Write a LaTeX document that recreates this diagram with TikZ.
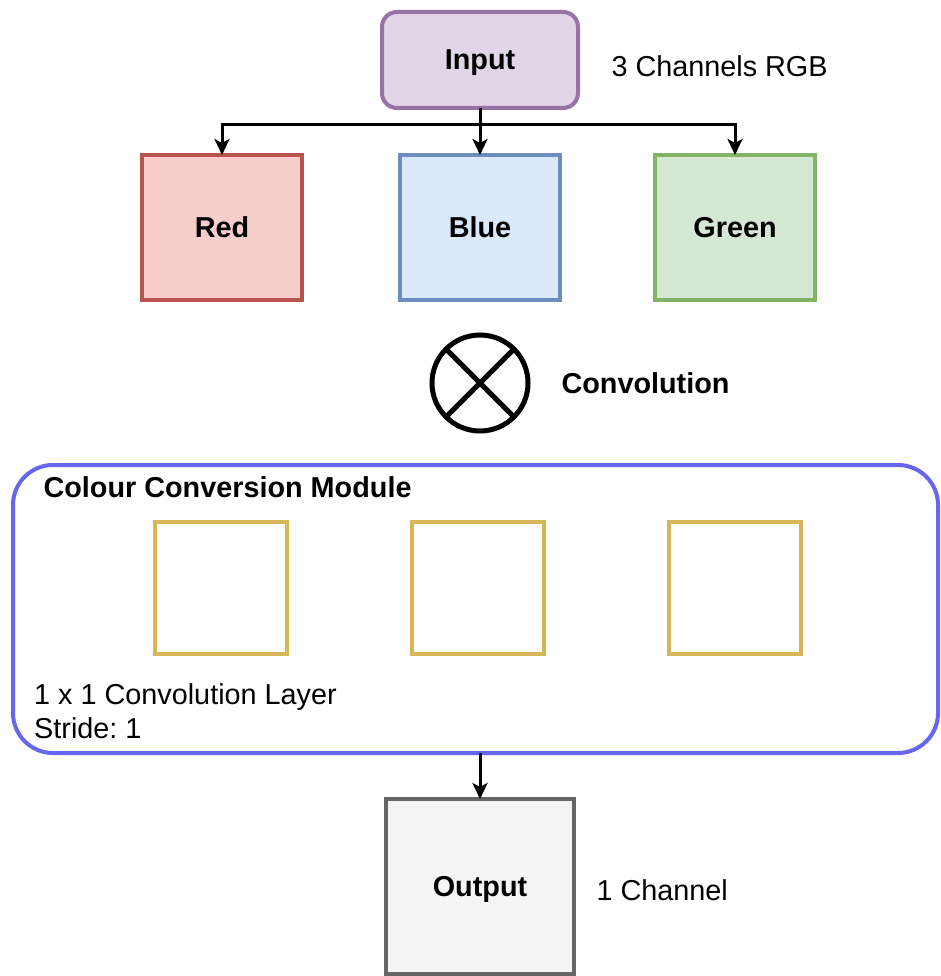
\documentclass[tikz,border=0pt]{standalone}
\usepackage{fontspec}
\setmainfont{Liberation Sans}
\usetikzlibrary{arrows.meta}
\definecolor{inF}{HTML}{E1D5E7}\definecolor{inS}{HTML}{9673A6}
\definecolor{rF}{HTML}{F8CECC}\definecolor{rS}{HTML}{B85450}
\definecolor{bF}{HTML}{DAE8FC}\definecolor{bS}{HTML}{6C8EBF}
\definecolor{gF}{HTML}{D5E8D4}\definecolor{gS}{HTML}{82B366}
\definecolor{yS}{HTML}{D6B656}
\definecolor{mS}{HTML}{6666EE}
\definecolor{oF}{HTML}{F5F5F5}\definecolor{oS}{HTML}{666666}
\frenchspacing
\begin{document}
\begin{tikzpicture}[x=1pt,y=-1pt,
  every node/.style={font=\fontsize{28.8}{34}\selectfont},
  box/.style={draw,line width=4pt,inner sep=0pt,outer sep=0pt,anchor=north west},
  lbl/.style={font=\fontsize{28.8}{34}\selectfont\bfseries,text depth=0pt},
  arr/.style={line width=3pt,-{Stealth[length=16pt,width=15pt,inset=4pt]}}]
\useasboundingbox (0,0) rectangle (941,976);
\node[box,draw=inS,fill=inF,rounded corners=15pt,minimum width=196pt,minimum height=96pt] (input) at (382,12) {};
\node[lbl] at (input.center) {Input};
\node[anchor=west] (rgb) at (608,66) {3 Channels RGB};
\node[box,draw=rS,fill=rF,minimum width=160pt,minimum height=145pt] (red) at (142,155) {};
\node[lbl] at (red.center) {Red};
\node[box,draw=bS,fill=bF,minimum width=160pt,minimum height=145pt] (blue) at (400,155) {};
\node[lbl] at (blue.center) {Blue};
\node[box,draw=gS,fill=gF,minimum width=160pt,minimum height=145pt] (green) at (655,155) {};
\node[lbl] at (green.center) {Green};
\coordinate (j) at (480,125);
\draw[line width=3pt] (input.south) -- (j);
\draw[arr] (j) -| (red.north);
\draw[arr] (j) -| (green.north);
\draw[arr] (j) -- (blue.north);
\node[circle,draw,line width=5pt,minimum size=96pt,inner sep=0pt,outer sep=0pt] (conv) at (480,383) {};
\draw[line width=5pt] (conv.45) -- (conv.225) (conv.135) -- (conv.315);
\node[lbl,anchor=west] (convlbl) at (558,383) {Convolution};
\node[box,draw=mS,rounded corners=40pt,minimum width=925pt,minimum height=288pt] (mod) at (13,465) {};
\node[lbl,anchor=west] (modlbl) at (40,487) {Colour Conversion Module};
\node[box,draw=yS,fill=white,minimum width=132pt,minimum height=132pt] (k1) at (155,522) {};
\node[box,draw=yS,fill=white,minimum width=132pt,minimum height=132pt] (k2) at (412,522) {};
\node[box,draw=yS,fill=white,minimum width=132pt,minimum height=132pt] (k3) at (669,522) {};
\node[anchor=north west,align=left,inner sep=0pt] (layer) at (34,683) {1 x 1 Convolution Layer\\Stride: 1};
\node[box,draw=oS,fill=oF,minimum width=188pt,minimum height=175pt] (out) at (386,799) {};
\node[lbl] at (out.center) {Output};
\node[anchor=west] (onech) at (593,890) {1 Channel};
\draw[arr] (mod.south -| out.north) -- (out.north);
\end{tikzpicture}
\end{document}
